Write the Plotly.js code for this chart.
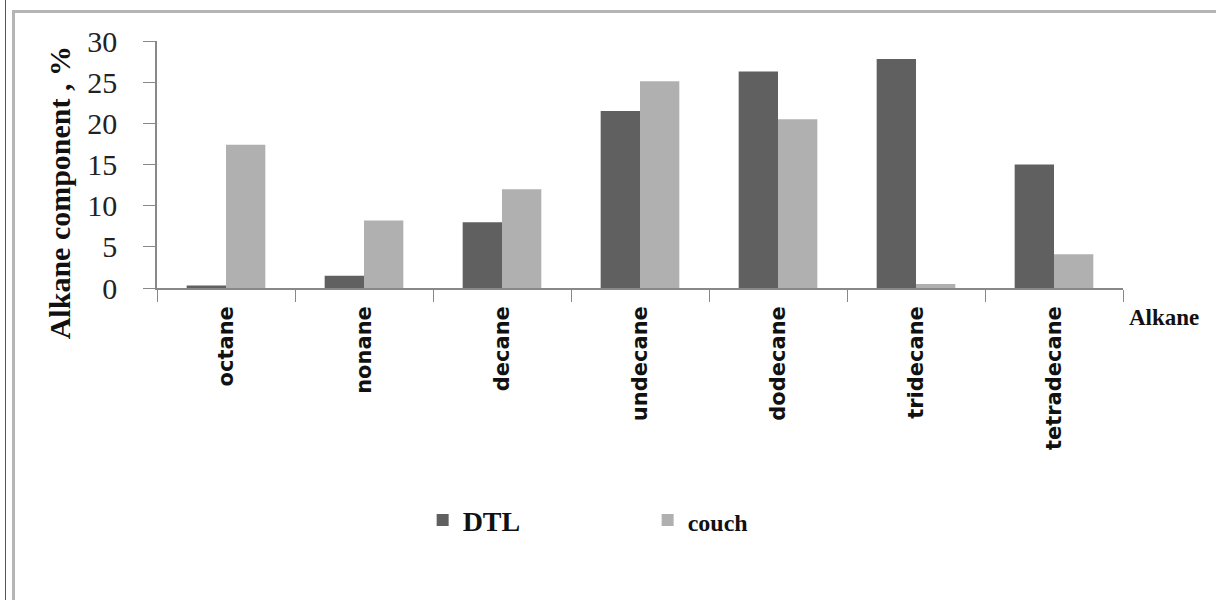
<!DOCTYPE html>
<html>
<head>
<meta charset="utf-8">
<script src="https://cdn.plot.ly/plotly-3.0.1.min.js"></script>
<style>
  html, body { margin: 0; padding: 0; background: #fff; }
  #wrap { position: relative; width: 1216px; height: 600px; overflow: hidden; }
  #frameA { position: absolute; left: 5px; top: 0; width: 0; height: 600px; border-left: 1px solid #555; }
  #frameB { position: absolute; left: 12px; top: 10px; width: 1210px; height: 600px; border-left: 3px solid #b5b5b5; border-top: 3px solid #b5b5b5; }
  #chart { position: absolute; left: 0; top: 0; width: 1216px; height: 600px; }
</style>
</head>
<body>
<div id="wrap">
  <div id="chart"></div>
  <div id="frameA"></div>
  <div id="frameB"></div>
</div>
<script>
const categories = ["octane", "nonane", "decane", "undecane", "dodecane", "tridecane", "tetradecane"];
const dtlValues = [0.3, 1.5, 8.0, 21.5, 26.3, 27.8, 15.0];
const couchValues = [17.4, 8.2, 12.0, 25.1, 20.5, 0.5, 4.1];
const yTickValues = [0, 5, 10, 15, 20, 25, 30];

const serif = "Liberation Serif, Times New Roman, serif";

const traces = [
  { type: "bar", name: "DTL", x: categories, y: dtlValues,
    marker: { color: "#606060" }, hoverinfo: "x+y" },
  { type: "bar", name: "<span style=\"font-size:24px\">couch</span>", x: categories, y: couchValues,
    marker: { color: "#b0b0b0" }, hoverinfo: "x+y" }
];

const layout = {
  width: 1216, height: 600,
  margin: { l: 157, r: 93, t: 41, b: 312 },
  paper_bgcolor: "rgba(0,0,0,0)", plot_bgcolor: "rgba(0,0,0,0)",
  barmode: "group", bargap: 0.43, bargroupgap: 0,
  showlegend: true,
  legend: {
    orientation: "h", x: 0.275, xanchor: "left", y: -0.94, yanchor: "middle",
    entrywidth: 180, entrywidthmode: "pixels",
    font: { family: serif, size: 28, color: "#111", weight: "bold" },
    itemclick: false, itemdoubleclick: false
  },
  xaxis: {
    type: "category", tickson: "boundaries", ticks: "outside", ticklen: 12,
    tickcolor: "#888", showline: true, linecolor: "#888", linewidth: 1.5,
    tickangle: -90, showgrid: false, zeroline: false,
    tickfont: { family: "DejaVu Sans, sans-serif", size: 21, color: "#111", weight: "bold" },
    ticklabelstandoff: 8
  },
  yaxis: {
    range: [0, 30], tickvals: yTickValues, ticktext: yTickValues.map(String),
    ticks: "outside", ticklen: 12, tickcolor: "#888", showline: true, linecolor: "#888",
    linewidth: 1.5, showgrid: false, zeroline: false,
    tickfont: { family: serif, size: 30, color: "#222" },
    ticklabelstandoff: 20
  },
  annotations: [
    { text: "Alkane component , %", textangle: -90, xref: "paper", yref: "paper",
      x: -0.1, y: 0.385, xanchor: "center", yanchor: "middle", showarrow: false,
      font: { family: serif, size: 30, color: "#111", weight: "bold" } },
    { text: "Alkane", xref: "paper", yref: "paper", x: 1.004, y: -0.12,
      xanchor: "left", yanchor: "middle", showarrow: false,
      font: { family: serif, size: 23, color: "#111", weight: "bold" } }
  ]
};

Plotly.newPlot("chart", traces, layout, { displayModeBar: false });
</script>
</body>
</html>
